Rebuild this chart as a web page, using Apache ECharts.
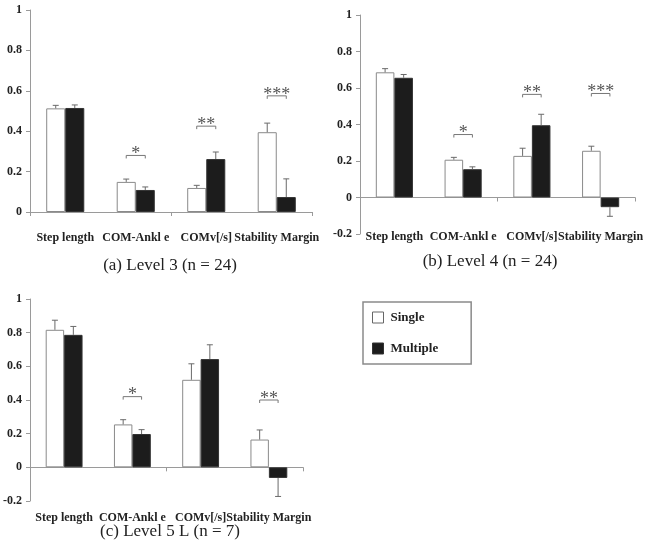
<!DOCTYPE html>
<html>
<head>
<meta charset="utf-8">
<script src="https://cdn.jsdelivr.net/npm/echarts@6/dist/echarts.min.js"></script>
<style>html,body{margin:0;padding:0;background:#fff;}#c{width:651px;height:551px;}</style>
</head>
<body>
<div id="c"></div>
<script>
const categories = ['Step length', 'COM-Ankl e', 'COMv[/s]', 'Stability Margin'];

const aSingle = [0.513, 0.149, 0.119, 0.395];
const aSingleErr = [0.015, 0.014, 0.013, 0.045];
const aMulti = [0.515, 0.109, 0.262, 0.074];
const aMultiErr = [0.015, 0.015, 0.035, 0.09];
const aSig = [[1, 0.28, '*'], [2, 0.425, '**'], [3, 0.575, '***']];

const bSingle = [0.686, 0.207, 0.228, 0.256];
const bSingleErr = [0.02, 0.013, 0.042, 0.025];
const bMulti = [0.656, 0.155, 0.396, -0.053];
const bMultiErr = [0.018, 0.013, 0.06, 0.05];
const bSig = [[1, 0.345, '*'], [2, 0.565, '**'], [3, 0.57, '***']];

const cSingle = [0.817, 0.255, 0.52, 0.165];
const cSingleErr = [0.057, 0.028, 0.095, 0.057];
const cMulti = [0.787, 0.198, 0.643, -0.063];
const cMultiErr = [0.05, 0.026, 0.085, 0.11];
const cSig = [[1, 0.42, '*'], [3, 0.40, '**']];

const captions = ['(a) Level 3 (n = 24)', '(b) Level 4 (n = 24)', '(c) Level 5 L (n = 7)'];

const SERIF = '"Liberation Serif", "DejaVu Serif", serif';
const AXIS = '#9a9a9a';
const BARW = 0.27;

const panels = [
  {s: aSingle, se: aSingleErr, m: aMulti, me: aMultiErr, sig: aSig, min: 0, max: 1,
   grid: {left: 30, top: 10, width: 282, height: 202}, labelMargin: 20},
  {s: bSingle, se: bSingleErr, m: bMulti, me: bMultiErr, sig: bSig, min: -0.2, max: 1,
   grid: {left: 360, top: 15, width: 275, height: 219}, labelMargin: -3},
  {s: cSingle, se: cSingleErr, m: cMulti, me: cMultiErr, sig: cSig, min: -0.2, max: 1,
   grid: {left: 30, top: 299, width: 273, height: 202}, labelMargin: 11}
];

function errRender(side) {
  return function (params, api) {
    const cat = api.value(0), v = api.value(1), e = api.value(2);
    const c = api.coord([cat, v]);
    const band = api.size([1, 0])[0];
    const bw = band * BARW;
    const x = c[0] + side * bw / 2;
    const end = api.coord([cat, v >= 0 ? v + e : v - e]);
    return {type: 'group', children: [
      {type: 'line', shape: {x1: x, y1: c[1], x2: x, y2: end[1]}, style: {stroke: '#6a6a6a', lineWidth: 1}},
      {type: 'line', shape: {x1: x - 3, y1: end[1], x2: x + 3, y2: end[1]}, style: {stroke: '#6a6a6a', lineWidth: 1}}
    ]};
  };
}

function sigRender(sig) {
  return function (params, api) {
    const item = sig[params.dataIndex];
    const c = api.coord([item[0], item[1]]);
    const band = api.size([1, 0])[0];
    const hw = band * BARW / 2;
    return {type: 'group', children: [
      {type: 'polyline', shape: {points: [[c[0] - hw, c[1] + 3], [c[0] - hw, c[1]], [c[0] + hw, c[1]], [c[0] + hw, c[1] + 3]]},
       style: {stroke: '#777', lineWidth: 1, fill: null}},
      {type: 'text', style: {x: c[0], y: c[1] - 1, text: item[2], align: 'center', verticalAlign: 'middle',
       font: '18px ' + SERIF, fill: '#555'}}
    ]};
  };
}

const grids = [], xAxes = [], yAxes = [], series = [];
panels.forEach((p, i) => {
  grids.push(p.grid);
  xAxes.push({type: 'category', data: categories, gridIndex: i,
    axisLine: {onZero: true, lineStyle: {color: AXIS, width: 1}},
    axisTick: {show: true, length: 4, lineStyle: {color: AXIS}},
    axisLabel: {show: false}, splitLine: {show: false}});
  xAxes.push({type: 'category', data: categories, gridIndex: i, position: 'bottom',
    axisLine: {show: false, onZero: false}, axisTick: {show: false}, splitLine: {show: false},
    axisLabel: {show: true, interval: 0, margin: p.labelMargin, color: '#222', fontFamily: SERIF, fontWeight: 'bold', fontSize: 12}});
  yAxes.push({type: 'value', gridIndex: i, min: p.min, max: p.max, interval: 0.2,
    axisLine: {show: true, lineStyle: {color: AXIS, width: 1}},
    axisTick: {show: true, length: 4, lineStyle: {color: AXIS}},
    splitLine: {show: false},
    axisLabel: {color: '#222', fontFamily: SERIF, fontWeight: 'bold', fontSize: 12, margin: 8}});
  series.push({type: 'bar', name: 'Single', xAxisIndex: 2 * i, yAxisIndex: i, data: p.s,
    barWidth: (BARW * 100) + '%', barGap: '0%',
    itemStyle: {color: '#ffffff', borderColor: '#8a8a8a', borderWidth: 1}});
  series.push({type: 'bar', name: 'Multiple', xAxisIndex: 2 * i, yAxisIndex: i, data: p.m,
    barWidth: (BARW * 100) + '%', barGap: '0%',
    itemStyle: {color: '#1c1c1c', borderColor: '#333', borderWidth: 1}});
  series.push({type: 'custom', xAxisIndex: 2 * i, yAxisIndex: i, renderItem: errRender(-1), clip: false, z: 5,
    encode: {x: 0, y: 1}, data: p.s.map((v, k) => [k, v, p.se[k]]), silent: true});
  series.push({type: 'custom', xAxisIndex: 2 * i, yAxisIndex: i, renderItem: errRender(1), clip: false, z: 5,
    encode: {x: 0, y: 1}, data: p.m.map((v, k) => [k, v, p.me[k]]), silent: true});
  series.push({type: 'custom', xAxisIndex: 2 * i, yAxisIndex: i, renderItem: sigRender(p.sig), clip: false, z: 6,
    encode: {x: 0, y: 1}, data: p.sig.map(d => [d[0], d[1]]), silent: true});
});

const capStyle = {fontFamily: SERIF, fontWeight: 'normal', fontSize: 17, color: '#222'};
const option = {
  backgroundColor: '#fff',
  animation: false,
  title: [
    {text: captions[0], left: 165, top: 252, textAlign: 'center', textStyle: capStyle},
    {text: captions[1], left: 485, top: 248, textAlign: 'center', textStyle: capStyle},
    {text: captions[2], left: 165, top: 518, textAlign: 'center', textStyle: capStyle}
  ],
  legend: {
    left: 363, top: 302, orient: 'vertical', itemGap: 18, itemWidth: 11, itemHeight: 11,
    padding: [9, 33, 9, 9], borderColor: '#8a8a8a', borderWidth: 1.5,
    textStyle: {fontFamily: SERIF, fontWeight: 'bold', fontSize: 13, color: '#222', padding: [0, 0, 0, 2]},
    data: [
      {name: 'Single', icon: 'rect', itemStyle: {color: '#fff', borderColor: '#666', borderWidth: 1}},
      {name: 'Multiple', icon: 'rect', itemStyle: {color: '#1c1c1c', borderColor: '#333', borderWidth: 1}}
    ]
  },
  grid: grids, xAxis: xAxes, yAxis: yAxes, series: series
};

echarts.init(document.getElementById('c'), null, {renderer: 'canvas'}).setOption(option);
</script>
</body>
</html>
